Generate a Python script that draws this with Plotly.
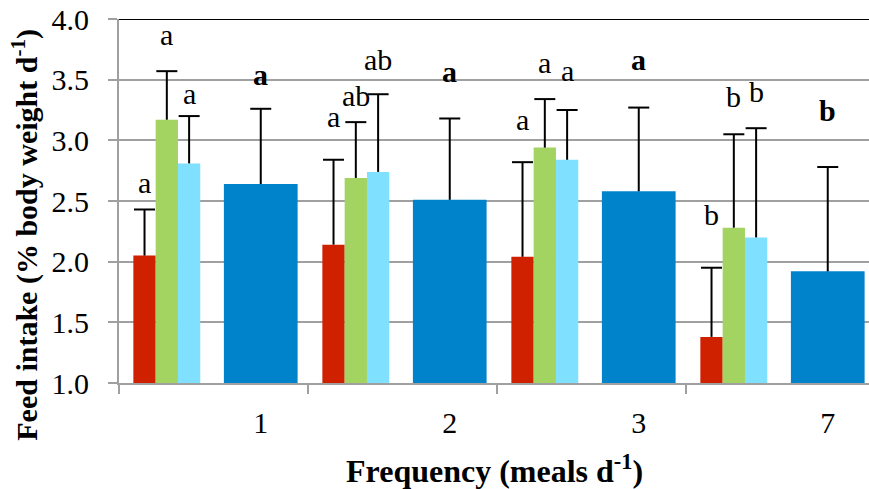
import plotly.graph_objects as go

groups = ["1", "2", "3", "7"]
red_vals = [2.05, 2.14, 2.04, 1.38]
red_err = [0.38, 0.70, 0.78, 0.57]
green_vals = [3.17, 2.69, 2.94, 2.28]
green_err = [0.40, 0.46, 0.40, 0.77]
cyan_vals = [2.81, 2.74, 2.84, 2.20]
cyan_err = [0.39, 0.64, 0.41, 0.90]
blue_vals = [2.64, 2.51, 2.58, 1.92]
blue_err = [0.62, 0.67, 0.69, 0.86]

red_letters = ["a", "a", "a", "b"]
green_letters = ["a", "ab", "a", "b"]
cyan_letters = ["a", "ab", "a", "b"]
blue_letters = ["a", "a", "a", "b"]
red_letter_y = [2.63, 3.17, 3.15, 2.39]
green_letter_y = [3.85, 3.37, 3.62, 3.36]
cyan_letter_y = [3.36, 3.665, 3.55, 3.40]
blue_letter_y = [3.52, 3.54, 3.64, 3.25]

FONT = "'Liberation Serif', 'Times New Roman', Tinos, 'DejaVu Serif', serif"
idx = list(range(len(groups)))
small_w = 0.118
offsets = {"red": 0.135, "green": 0.253, "cyan": 0.371, "blue": 0.75}
colors = {"red": "#CF2000", "green": "#A3D462", "cyan": "#80E0FF", "blue": "#0083CB"}
series = {
    "red": (red_vals, red_err, red_letters, red_letter_y, small_w, False),
    "green": (green_vals, green_err, green_letters, green_letter_y, small_w, False),
    "cyan": (cyan_vals, cyan_err, cyan_letters, cyan_letter_y, small_w, False),
    "blue": (blue_vals, blue_err, blue_letters, blue_letter_y, 0.39, True),
}

fig = go.Figure()
annotations = []
err_x, err_y, cap_x, cap_y = [], [], [], []
for name, (vals, errs, letters, ly, w, bold) in series.items():
    xs = [i + offsets[name] for i in idx]
    fig.add_trace(go.Bar(
        x=xs, y=vals, width=[w] * len(xs), name=name,
        marker=dict(color=colors[name], line=dict(width=0)),
        showlegend=False,
    ))
    for x, v, e in zip(xs, vals, errs):
        err_x += [x, x, None]
        err_y += [v, v + e, None]
        cap_x.append(x)
        cap_y.append(v + e)
    for x, t, yv in zip(xs, letters, ly):
        annotations.append(dict(
            x=x, y=yv, xref="x", yref="y", showarrow=False,
            text=f"<b>{t}</b>" if bold else t,
            font=dict(family=FONT, size=30, color="black"),
            xanchor="center", yanchor="middle",
            yshift=3 if t == "a" else 0,
        ))

fig.add_trace(go.Scatter(x=err_x, y=err_y, mode="lines",
                         line=dict(color="black", width=2),
                         showlegend=False, hoverinfo="skip"))
fig.add_trace(go.Scatter(x=cap_x, y=cap_y, mode="markers",
                         marker=dict(symbol="line-ew", size=15,
                                     line=dict(color="black", width=2)),
                         showlegend=False, hoverinfo="skip"))

annotations.append(dict(
    x=0.5, y=-0.236, xref="paper", yref="paper", showarrow=False,
    text="<b>Frequency (meals d<sup>-1</sup>)</b>",
    font=dict(family=FONT, size=32, color="black"),
    xanchor="center", yanchor="middle",
))
annotations.append(dict(
    x=-0.125, y=0.408, xref="paper", yref="paper", showarrow=False,
    text="<b>Feed intake (% body weight d<sup>-1</sup>)</b>",
    font=dict(family=FONT, size=30, color="black"),
    textangle=-90, xanchor="center", yanchor="middle",
))

fig.update_layout(
    width=869, height=489,
    margin=dict(l=119, r=0, t=19, b=106),
    paper_bgcolor="white", plot_bgcolor="white",
    barmode="overlay",
    annotations=annotations,
    shapes=[dict(type="line", xref="paper", yref="y", x0=0, x1=1, y0=4.0, y1=4.0,
                 line=dict(color="black", width=2))],
    xaxis=dict(
        range=[0, 750 / 189], showgrid=False, zeroline=False,
        tickmode="array", tickvals=[i + 0.75 for i in idx], ticktext=groups,
        ticks="", ticklabelstandoff=12,
        tickfont=dict(family=FONT, size=30, color="black"),
        showline=True, linecolor="#A0A0A0", linewidth=2,
        minor=dict(tickmode="array", tickvals=[0, 1, 2, 3, 4], ticks="outside",
                   ticklen=9, tickcolor="#A0A0A0", tickwidth=2, showgrid=False),
    ),
    yaxis=dict(
        range=[1.0, 4.0], tickmode="array", tickvals=[1.0, 1.5, 2.0, 2.5, 3.0, 3.5, 4.0],
        ticktext=["1.0", "1.5", "2.0", "2.5", "3.0", "3.5", "4.0"],
        showgrid=True, gridcolor="#A0A0A0", gridwidth=1.5, zeroline=False,
        ticks="outside", ticklen=9, tickcolor="#A0A0A0", tickwidth=2,
        ticklabelstandoff=13,
        tickfont=dict(family=FONT, size=30, color="black"),
        showline=True, linecolor="#A0A0A0", linewidth=2,
    ),
)

fig.write_html("out.html")
